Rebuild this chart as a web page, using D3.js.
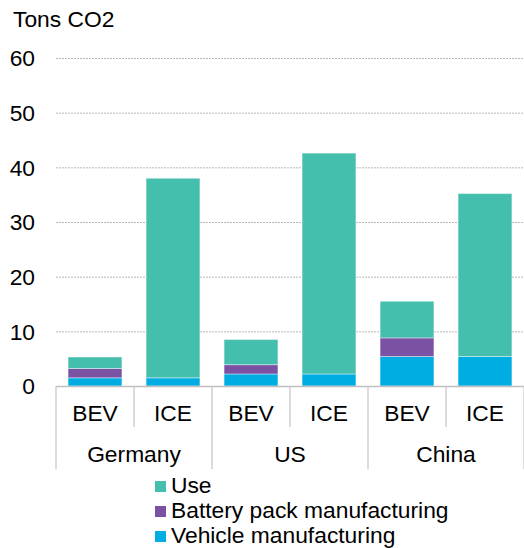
<!DOCTYPE html>
<html><head><meta charset="utf-8">
<script src="https://cdn.jsdelivr.net/npm/d3@7"></script>
<style>body{margin:0;background:#fff}svg{display:block;font-family:"Liberation Sans",Arial,sans-serif}</style>
</head><body>
<script>
const countries = ["Germany","US","China"];
const types = ["BEV","ICE"];
const seriesNames = ["Vehicle manufacturing","Battery pack manufacturing","Use"];
const vehicleMfg = [1.5, 1.5, 2.2, 2.2, 5.4, 5.4];
const batteryMfg = [1.7, 0, 1.7, 0, 3.4, 0];
const useVals    = [2.1, 36.5, 4.6, 40.4, 6.7, 29.8];
const yTicks = [0,10,20,30,40,50,60];
const colors = ["#00ADE3","#7B52A3","#45BFAD"];

const W=524,H=548,FS=22.8;
const svg=d3.select("body").append("svg").attr("width",W).attr("height",H);
const x0=56,x1=524,yTop=58,yBot=386;
const cats=[];
countries.forEach(c=>types.forEach(t=>cats.push(c+"|"+t)));
const x=d3.scaleBand().domain(cats).range([x0,x1]).paddingInner(0.31).paddingOuter(0.155);
const y=d3.scaleLinear().domain([0,60]).range([yBot,yTop]);

svg.append("text").attr("x",13).attr("y",27).attr("font-size",FS).text("Tons CO2");

// gridlines
svg.append("g").selectAll("line").data(yTicks.filter(d=>d>0)).join("line")
 .attr("x1",x0).attr("x2",x1).attr("y1",d=>y(d)+0.5).attr("y2",d=>y(d)+0.5)
 .attr("stroke","#b8b8b8").attr("stroke-dasharray","2,1").attr("stroke-width",1);

// y axis labels
const yAxis=d3.axisLeft(y).tickValues(yTicks).tickSize(0).tickPadding(0);
const ga=svg.append("g").attr("transform","translate(35,0)").call(yAxis);
ga.select(".domain").remove();
ga.selectAll("text").attr("font-size",FS).attr("fill","#000").attr("font-family","Liberation Sans, Arial, sans-serif").attr("dy","0.35em");

// stacked
const rows=cats.map((c,i)=>({cat:c,"Vehicle manufacturing":vehicleMfg[i],"Battery pack manufacturing":batteryMfg[i],"Use":useVals[i]}));
const stack=d3.stack().keys(seriesNames)(rows);
svg.append("g").selectAll("g").data(stack).join("g").attr("fill",(d,i)=>colors[i])
 .selectAll("rect").data(d=>d).join("rect")
 .attr("x",d=>x(d.data.cat)).attr("width",x.bandwidth())
 .attr("y",d=>y(d[1])).attr("height",d=>Math.max(0,y(d[0])-y(d[1])))
 .attr("stroke","#ffffff").attr("stroke-opacity",0.4).attr("stroke-width",1);

// x axis line
svg.append("line").attr("x1",x0).attr("x2",x1).attr("y1",yBot+0.5).attr("y2",yBot+0.5).attr("stroke","#bfbfbf").attr("stroke-width",1.5);
// separators
const sepG=svg.append("g").attr("stroke","#c8c8c8").attr("stroke-width",1.3);
for(let i=0;i<=cats.length;i++){
  const xs=x0+i*(x1-x0)/cats.length;
  const long=(i%2===0);
  sepG.append("line").attr("x1",xs).attr("x2",xs).attr("y1",yBot).attr("y2",long?469:427);
}
// labels
svg.append("g").selectAll("text").data(cats).join("text")
 .attr("x",d=>x(d)+x.bandwidth()/2).attr("y",421).attr("text-anchor","middle").attr("font-size",FS)
 .text(d=>d.split("|")[1]);
const gw=(x1-x0)/countries.length;
svg.append("g").selectAll("text").data(countries).join("text")
 .attr("x",(d,i)=>x0+gw*(i+0.5)).attr("y",462).attr("text-anchor","middle").attr("font-size",FS).text(d=>d);

// legend
const legendOrder=["Use","Battery pack manufacturing","Vehicle manufacturing"];
const lg=svg.append("g");
legendOrder.forEach((n,i)=>{
  const base=493+i*25;
  lg.append("rect").attr("x",155).attr("y",base-12).attr("width",11).attr("height",11).attr("fill",colors[seriesNames.indexOf(n)]);
  lg.append("text").attr("x",171).attr("y",base).attr("font-size",FS).text(n);
});
</script>
</body></html>
